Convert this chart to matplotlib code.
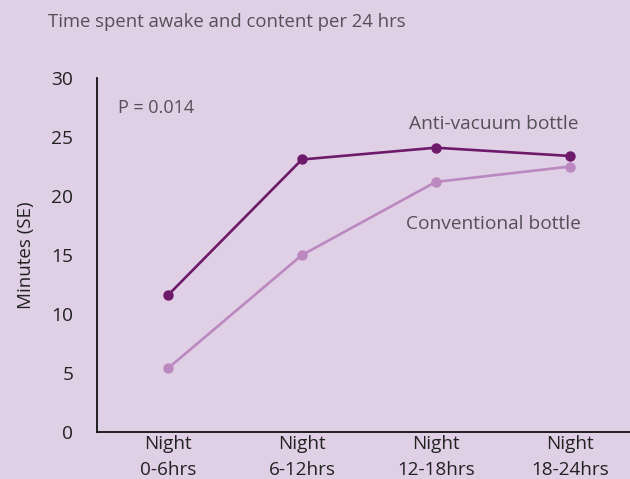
import matplotlib.pyplot as plt

# data
periods = ["Night\n0-6hrs", "Night\n6-12hrs", "Night\n12-18hrs", "Night\n18-24hrs"]
anti_vacuum = [11.6, 23.1, 24.1, 23.4]
conventional = [5.4, 15.0, 21.2, 22.5]
yticks = [0, 5, 10, 15, 20, 25, 30]

bg = "#dfd0e5"
dark = "#6e1a6a"
light = "#bb88c0"
grey = "#555058"

plt.rcParams['font.family'] = ['Open Sans', 'DejaVu Sans']

fig = plt.figure(figsize=(6.3, 4.79), dpi=100, facecolor=bg)
ax = fig.add_axes([0.154, 0.098, 0.846, 0.739], facecolor=bg)

x = list(range(len(periods)))
ax.plot(x, anti_vacuum, color=dark, lw=1.9, marker="o", ms=6.5, zorder=3)
ax.plot(x, conventional, color=light, lw=1.9, marker="o", ms=6.5, zorder=2)

ax.set_xlim(-0.53, 3.45)
ax.set_ylim(0, 30)
ax.set_xticks(x)
ax.set_xticklabels(periods, fontsize=13.6, color="#222222", linespacing=1.55)
ax.set_yticks(yticks)
ax.set_yticklabels([str(v) for v in yticks], fontsize=13.8, color="#222222")
ax.tick_params(axis="both", length=0)
ax.tick_params(axis="y", pad=17)
ax.tick_params(axis="x", pad=2)

for side in ["top", "right"]:
    ax.spines[side].set_visible(False)
for side in ["left", "bottom"]:
    ax.spines[side].set_linewidth(1.3)
    ax.spines[side].set_color("#111111")

ax.set_ylabel("Minutes (SE)", fontsize=13.5, color="#222222", labelpad=12)

ax.text(-0.37, 27.5, "P = 0.014", fontsize=13, color=grey, va="center")
ax.text(2.43, 26.1, "Anti-vacuum bottle", fontsize=13.8, color=grey, ha="center", va="center")
ax.text(2.43, 17.6, "Conventional bottle", fontsize=13.8, color=grey, ha="center", va="center")

fig.text(48 / 630, 1 - 22 / 479, "Time spent awake and content per 24 hrs",
         fontsize=13.3, color=grey, ha="left", va="center")

fig.savefig("out.png", dpi=100, facecolor=bg)
